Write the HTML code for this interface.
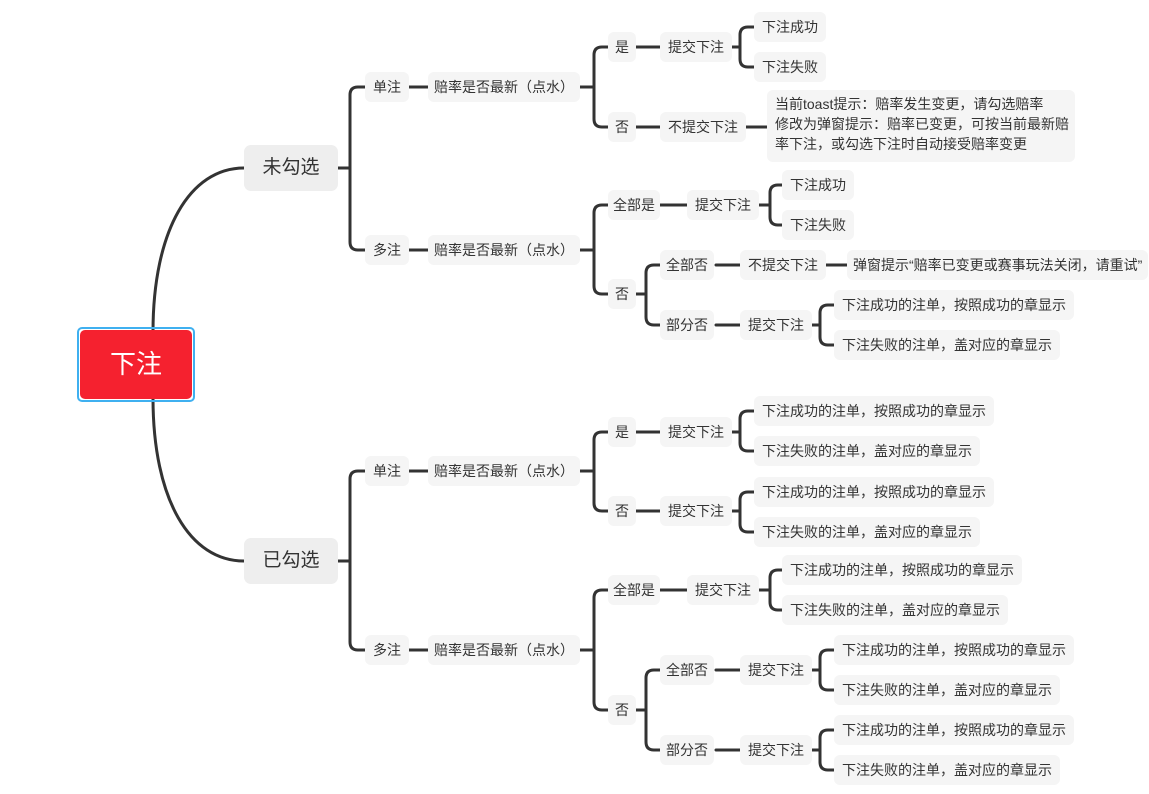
<!DOCTYPE html>
<html><head><meta charset="utf-8"><style>
body{margin:0;width:1149px;height:794px;background:#fff;position:relative;overflow:hidden;font-family:"Liberation Sans","Noto Sans CJK SC",sans-serif;}
.n{position:absolute;height:30px;line-height:30px;padding:0 8px;background:#f5f5f5;border-radius:6px;font-size:14px;color:#333;white-space:nowrap;transform:translateY(-15px);}
.l1{position:absolute;width:94px;height:46px;line-height:46px;text-align:center;background:#eeeeee;border-radius:7px;font-size:19px;color:#333;}
svg{position:absolute;left:0;top:0;}
</style></head><body>
<svg width="1149" height="794" fill="none" stroke="#333" stroke-width="3" stroke-linecap="round">
<path d="M153,332 C153,230 190,168 244,168"/>
<path d="M153,398 C153,500 190,561 244,561"/>
<path d="M365,87 H358 Q350,87 350,95 V242 Q350,250 358,250 H365 M338,168 H350"/>
<path d="M365,471 H358 Q350,471 350,479 V642 Q350,650 358,650 H365 M338,561 H350"/>
<path d="M608,47 H602 Q594,47 594,55 V119 Q594,127 602,127 H608 M580,87 H594"/>
<path d="M608,205 H602 Q594,205 594,213 V286 Q594,294 602,294 H608 M580,250 H594"/>
<path d="M608,432 H602 Q594,432 594,440 V503 Q594,511 602,511 H608 M580,471 H594"/>
<path d="M608,590 H602 Q594,590 594,598 V702 Q594,710 602,710 H608 M580,650 H594"/>
<path d="M660,265 H654 Q646,265 646,273 V317 Q646,325 654,325 H660 M636,294 H646"/>
<path d="M660,670 H654 Q646,670 646,678 V742 Q646,750 654,750 H660 M636,710 H646"/>
<path d="M754,27 H748 Q740,27 740,35 V59 Q740,67 748,67 H754 M728,47 H740"/>
<path d="M782,185 H778 Q770,185 770,193 V217 Q770,225 778,225 H782 M755,205 H770"/>
<path d="M834,305 H828 Q820,305 820,313 V337 Q820,345 828,345 H834 M808,325 H820"/>
<path d="M754,411 H748 Q740,411 740,419 V443 Q740,451 748,451 H754 M728,432 H740"/>
<path d="M754,492 H748 Q740,492 740,500 V524 Q740,532 748,532 H754 M728,511 H740"/>
<path d="M782,570 H778 Q770,570 770,578 V602 Q770,610 778,610 H782 M755,590 H770"/>
<path d="M834,650 H828 Q820,650 820,658 V682 Q820,690 828,690 H834 M808,670 H820"/>
<path d="M834,730 H828 Q820,730 820,738 V762 Q820,770 828,770 H834 M808,750 H820"/>
<path d="M405,87 H428 M405,250 H428 M405,471 H428 M405,650 H428"/>
<path d="M636,47 H660 M636,127 H660 M636,432 H660 M636,511 H660"/>
<path d="M660,205 H687 M660,590 H687"/>
<path d="M716,265 H740 M716,325 H740 M716,670 H740 M716,750 H740"/>
<path d="M742,127 H767 M822,265 H847"/>
</svg>
<div style="position:absolute;left:77px;top:327px;width:114px;height:71px;border:2px solid #3fb0f0;border-radius:5px;"></div>
<div style="position:absolute;left:80px;top:330px;width:112px;height:69px;background:#f5212f;border-radius:5px;color:#fff;font-size:26px;line-height:69px;text-align:center;">下注</div>
<div class="l1" style="left:244px;top:145px;">未勾选</div>
<div class="l1" style="left:244px;top:538px;">已勾选</div>

<div class="n" style="left:365px;top:87px">单注</div>
<div class="n" style="left:365px;top:250px">多注</div>
<div class="n" style="left:428px;top:87px;padding:0 6px">赔率是否最新（点水）</div>
<div class="n" style="left:428px;top:250px;padding:0 6px">赔率是否最新（点水）</div>
<div class="n" style="left:608px;top:47px;padding:0 7px">是</div>
<div class="n" style="left:608px;top:127px;padding:0 7px">否</div>
<div class="n" style="left:608px;top:205px;padding:0 5px">全部是</div>
<div class="n" style="left:608px;top:294px;padding:0 7px">否</div>
<div class="n" style="left:660px;top:47px">提交下注</div>
<div class="n" style="left:660px;top:127px">不提交下注</div>
<div class="n" style="left:687px;top:205px">提交下注</div>
<div class="n" style="left:660px;top:265px;padding:0 6px">全部否</div>
<div class="n" style="left:660px;top:325px;padding:0 6px">部分否</div>
<div class="n" style="left:754px;top:27px">下注成功</div>
<div class="n" style="left:754px;top:67px">下注失败</div>
<div style="position:absolute;left:767px;top:90px;width:292px;height:64px;padding:4px 8px;background:#f5f5f5;border-radius:6px;font-size:14px;line-height:20px;color:#333;white-space:nowrap;">当前toast提示：赔率发生变更，请勾选赔率<br>修改为弹窗提示：赔率已变更，可按当前最新赔<br>率下注，或勾选下注时自动接受赔率变更</div>
<div class="n" style="left:782px;top:185px">下注成功</div>
<div class="n" style="left:782px;top:225px">下注失败</div>
<div class="n" style="left:740px;top:265px">不提交下注</div>
<div class="n" style="left:847px;top:265px;padding:0 6px">弹窗提示“赔率已变更或赛事玩法关闭，请重试”</div>
<div class="n" style="left:740px;top:325px">提交下注</div>
<div class="n" style="left:834px;top:305px">下注成功的注单，按照成功的章显示</div>
<div class="n" style="left:834px;top:345px">下注失败的注单，盖对应的章显示</div>

<div class="n" style="left:365px;top:471px">单注</div>
<div class="n" style="left:365px;top:650px">多注</div>
<div class="n" style="left:428px;top:471px;padding:0 6px">赔率是否最新（点水）</div>
<div class="n" style="left:428px;top:650px;padding:0 6px">赔率是否最新（点水）</div>
<div class="n" style="left:608px;top:432px;padding:0 7px">是</div>
<div class="n" style="left:608px;top:511px;padding:0 7px">否</div>
<div class="n" style="left:608px;top:590px;padding:0 5px">全部是</div>
<div class="n" style="left:608px;top:710px;padding:0 7px">否</div>
<div class="n" style="left:660px;top:432px">提交下注</div>
<div class="n" style="left:660px;top:511px">提交下注</div>
<div class="n" style="left:687px;top:590px">提交下注</div>
<div class="n" style="left:660px;top:670px;padding:0 6px">全部否</div>
<div class="n" style="left:660px;top:750px;padding:0 6px">部分否</div>
<div class="n" style="left:754px;top:411px">下注成功的注单，按照成功的章显示</div>
<div class="n" style="left:754px;top:451px">下注失败的注单，盖对应的章显示</div>
<div class="n" style="left:754px;top:492px">下注成功的注单，按照成功的章显示</div>
<div class="n" style="left:754px;top:532px">下注失败的注单，盖对应的章显示</div>
<div class="n" style="left:782px;top:570px">下注成功的注单，按照成功的章显示</div>
<div class="n" style="left:782px;top:610px">下注失败的注单，盖对应的章显示</div>
<div class="n" style="left:740px;top:670px">提交下注</div>
<div class="n" style="left:740px;top:750px">提交下注</div>
<div class="n" style="left:834px;top:650px">下注成功的注单，按照成功的章显示</div>
<div class="n" style="left:834px;top:690px">下注失败的注单，盖对应的章显示</div>
<div class="n" style="left:834px;top:730px">下注成功的注单，按照成功的章显示</div>
<div class="n" style="left:834px;top:770px">下注失败的注单，盖对应的章显示</div>
</body></html>
